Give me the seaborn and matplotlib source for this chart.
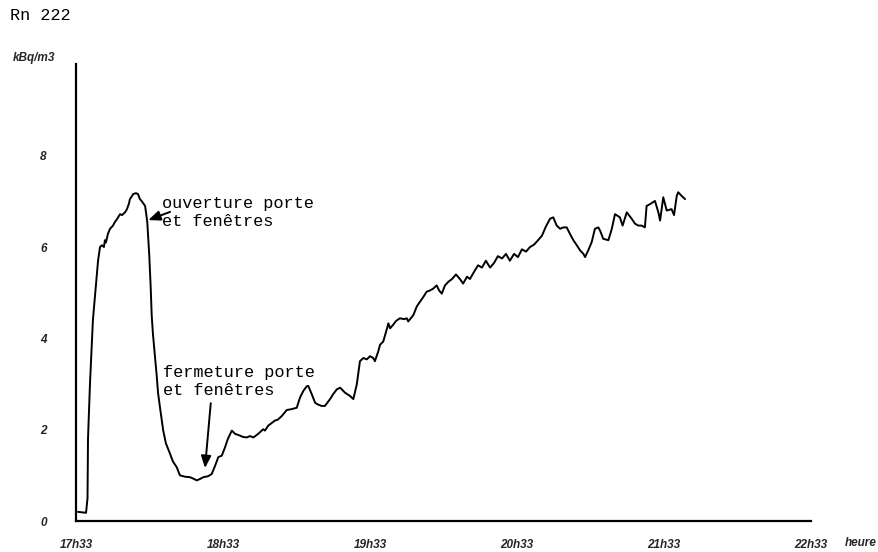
import matplotlib
matplotlib.use("Agg")
import matplotlib.pyplot as plt
import seaborn as sns
import pandas as pd

# Radon 222 concentration (kBq/m3) against minutes elapsed since 17h33
minutes = [
    0.8, 4.1, 4.7, 4.9, 5.7, 6.9, 8.2, 9.0, 9.8, 10.6,
    11.4, 11.8, 12.2, 13.1, 13.9, 15.1, 15.9, 16.7, 18.0, 18.8,
    20.0, 20.8, 21.6, 22.0, 22.9, 23.3, 24.5, 25.3, 26.1, 26.9,
    28.2, 28.6, 29.1, 29.6, 29.9, 30.5, 30.9, 31.4, 31.8, 32.4,
    32.9, 33.5, 34.3, 35.6, 36.7, 38.4, 39.6, 41.1, 42.4, 44.5,
    46.5, 47.8, 49.3, 50.6, 52.0, 53.9, 55.4, 56.7, 58.1, 59.5,
    60.8, 62.0, 63.6, 64.9, 66.9, 68.2, 69.7, 71.0, 72.4, 74.4,
    76.4, 77.1, 78.5, 80.0, 81.2, 82.4, 84.0, 86.0, 88.0, 90.1,
    91.4, 92.8, 94.2, 94.8, 96.2, 97.6, 98.8, 100.3, 101.6, 103.7,
    105.0, 106.4, 107.8, 109.8, 111.8, 113.2, 114.6, 115.9, 117.3, 118.7,
    120.0, 121.3, 122.0, 123.4, 124.1, 125.4, 126.8, 127.5, 128.2, 129.5,
    130.6, 132.2, 133.9, 135.0, 135.6, 137.7, 139.1, 140.4, 141.8, 143.1,
    144.5, 145.8, 147.2, 148.2, 149.3, 150.6, 152.0, 153.5, 155.1, 156.7,
    158.0, 159.6, 160.8, 162.4, 164.1, 165.7, 167.3, 169.0, 170.6, 172.2,
    173.9, 175.5, 177.1, 178.8, 180.4, 182.0, 183.7, 185.3, 186.9, 188.6,
    190.2, 191.8, 193.5, 194.8, 196.2, 197.6, 198.9, 200.3, 201.6, 203.0,
    204.4, 205.7, 207.1, 207.8, 209.1, 210.5, 211.8, 213.2, 213.9, 215.2,
    217.3, 218.7, 220.0, 222.0, 223.1, 224.8, 226.8, 228.2, 229.5, 230.9,
    232.2, 232.9, 234.3, 236.3, 237.7, 238.4, 239.7, 241.1, 243.1, 244.1,
    245.2, 245.8, 247.2, 248.6,
]
radon = [
    0.20, 0.18, 0.50, 1.80, 3.00, 4.40, 5.20, 5.70, 6.00, 6.04,
    6.00, 6.15, 6.10, 6.30, 6.40, 6.47, 6.55, 6.61, 6.72, 6.70,
    6.76, 6.83, 6.95, 7.05, 7.12, 7.16, 7.18, 7.16, 7.05, 7.00,
    6.90, 6.75, 6.54, 6.10, 5.82, 5.10, 4.50, 4.10, 3.85, 3.50,
    3.21, 2.80, 2.48, 1.98, 1.70, 1.47, 1.30, 1.18, 1.00, 0.97,
    0.96, 0.93, 0.89, 0.92, 0.96, 0.98, 1.03, 1.20, 1.40, 1.43,
    1.61, 1.80, 1.98, 1.91, 1.87, 1.84, 1.83, 1.86, 1.83, 1.91,
    2.01, 1.98, 2.09, 2.15, 2.20, 2.22, 2.30, 2.43, 2.45, 2.48,
    2.70, 2.85, 2.95, 2.96, 2.78, 2.59, 2.55, 2.52, 2.52, 2.67,
    2.78, 2.88, 2.92, 2.81, 2.74, 2.67, 2.99, 3.50, 3.57, 3.54,
    3.61, 3.57, 3.50, 3.72, 3.86, 3.93, 4.19, 4.33, 4.22, 4.30,
    4.38, 4.44, 4.42, 4.44, 4.37, 4.51, 4.70, 4.80, 4.91, 5.02,
    5.05, 5.09, 5.16, 5.05, 4.98, 5.16, 5.24, 5.30, 5.40, 5.30,
    5.20, 5.35, 5.30, 5.45, 5.60, 5.55, 5.70, 5.55, 5.65, 5.80,
    5.75, 5.85, 5.70, 5.85, 5.78, 5.95, 5.90, 6.00, 6.05, 6.15,
    6.25, 6.45, 6.62, 6.65, 6.47, 6.40, 6.43, 6.43, 6.29, 6.15,
    6.04, 5.93, 5.85, 5.78, 5.93, 6.11, 6.40, 6.43, 6.36, 6.18,
    6.15, 6.40, 6.72, 6.65, 6.47, 6.76, 6.62, 6.51, 6.47, 6.47,
    6.43, 6.90, 6.94, 7.01, 6.76, 6.58, 7.09, 6.80, 6.83, 6.70,
    7.12, 7.20, 7.12, 7.05,
]

hour_ticks = [0, 60, 120, 180, 240, 300]
hour_labels = ["17h33", "18h33", "19h33", "20h33", "21h33", "22h33"]
y_major = [0, 2, 4, 6, 8]
y_minor = [1, 3, 5, 7, 9, 10]

df = pd.DataFrame({"minutes": minutes, "radon": radon})

sns.set_theme(style="white")
plt.rcParams["font.family"] = ["Liberation Sans", "DejaVu Sans"]

W, H = 879, 552
fig = plt.figure(figsize=(W / 100, H / 100), dpi=100)
ax = fig.add_axes([76 / W, 31 / H, 735 / W, 456.6 / H])

sns.lineplot(data=df, x="minutes", y="radon", ax=ax, color="black",
             linewidth=1.4, estimator=None, sort=False)

ax.set_xlim(0, 300)
ax.set_ylim(0, 10)
ax.set_xlabel("")
ax.set_ylabel("")

for side in ("top", "right"):
    ax.spines[side].set_visible(False)
for side in ("left", "bottom"):
    ax.spines[side].set_color("black")
    ax.spines[side].set_linewidth(1.6)

tick_font = dict(family="Liberation Sans", weight="bold", style="italic", size=8.5)
ax.set_xticks(hour_ticks)
ax.set_xticklabels(hour_labels, **tick_font)
ax.set_yticks(y_major)
ax.set_yticklabels([str(v) for v in y_major], **tick_font)
ax.set_yticks(y_minor, minor=True)
ax.tick_params(axis="x", direction="inout", length=6, width=1.2, color="black", pad=10)
ax.tick_params(axis="y", which="both", direction="inout", length=6, width=1.2,
               color="black", pad=18)
ax.tick_params(axis="y", which="minor", labelleft=False)

# Titles and axis captions
mono = dict(family="Liberation Mono", size=12.2, color="black")
fig.text(10 / W, 1 - 15 / H, "Rn 222", ha="left", va="center", **mono)
fig.text(13 / W, 1 - 58 / H, "kBq/m3", ha="left", va="center", **tick_font)
fig.text(845 / W, 1 - 543 / H, "heure", ha="left", va="center", **tick_font)

# Event annotations
ax.text(35.1, 6.76, "ouverture porte\net fenêtres", ha="left", va="center",
        linespacing=1.25, **mono)
ax.annotate("", xy=(29.5, 6.59), xytext=(38.4, 6.77),
            arrowprops=dict(arrowstyle="-|>,head_length=0.6,head_width=0.25",
                            color="black", lw=1.4, mutation_scale=12,
                            shrinkA=0, shrinkB=0),
            annotation_clip=False)

ax.text(35.5, 3.06, "fermeture porte\net fenêtres", ha="left", va="center",
        linespacing=1.25, **mono)
ax.annotate("", xy=(52.65, 1.16), xytext=(55.0, 2.58),
            arrowprops=dict(arrowstyle="-|>,head_length=0.6,head_width=0.25",
                            color="black", lw=1.4, mutation_scale=12,
                            shrinkA=0, shrinkB=0),
            annotation_clip=False)

fig.savefig("out.png", dpi=100, facecolor="white")
